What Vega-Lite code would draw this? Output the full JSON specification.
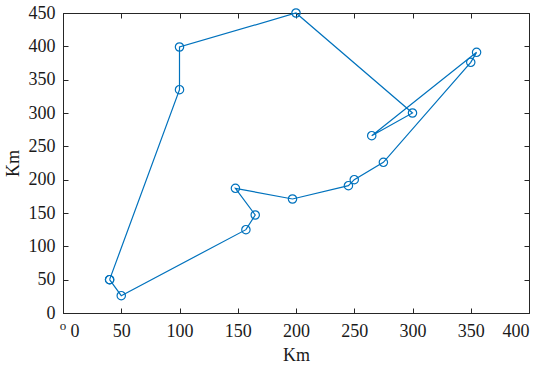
{
  "$schema": "https://vega.github.io/schema/vega-lite/v6.json",
  "width": 466,
  "height": 300,
  "autosize": "none",
  "padding": {"left": 63, "top": 13, "right": 21, "bottom": 57},
  "background": "white",
  "config": {
    "font": "Liberation Serif",
    "view": {"stroke": "#262626", "strokeWidth": 1},
    "axis": {
      "domainColor": "#262626",
      "tickColor": "#262626",
      "labelColor": "#1a1a1a",
      "titleColor": "#1a1a1a",
      "labelFont": "Liberation Serif",
      "titleFont": "Liberation Serif",
      "labelFontSize": 18,
      "titleFontSize": 18,
      "titleFontWeight": "normal",
      "grid": false,
      "tickSize": -5
    }
  },
  "datasets": {
    "route": [
      {"i": 1, "x": 40, "y": 50},
      {"i": 2, "x": 100, "y": 335},
      {"i": 3, "x": 100, "y": 399},
      {"i": 4, "x": 200, "y": 450},
      {"i": 5, "x": 300, "y": 300},
      {"i": 6, "x": 265, "y": 266},
      {"i": 7, "x": 355, "y": 391},
      {"i": 8, "x": 350, "y": 376},
      {"i": 9, "x": 275, "y": 226},
      {"i": 10, "x": 250, "y": 200},
      {"i": 11, "x": 245, "y": 191},
      {"i": 12, "x": 197, "y": 171},
      {"i": 13, "x": 148, "y": 187},
      {"i": 14, "x": 165, "y": 147},
      {"i": 15, "x": 157, "y": 125},
      {"i": 16, "x": 50, "y": 26},
      {"i": 17, "x": 40, "y": 50}
    ],
    "note": [{"x": 0, "y": -20, "label": "o"}]
  },
  "layer": [
    {
      "data": {"name": "route"},
      "mark": {"type": "line", "color": "#0072BD", "strokeWidth": 1.2},
      "encoding": {
        "x": {"field": "x", "type": "quantitative", "scale": {"domain": [0, 400], "nice": false, "zero": false},
              "axis": {"title": "Km", "values": [0, 50, 100, 150, 200, 250, 300, 350, 400], "labelPadding": 14, "titlePadding": 6,
                       "labelOffset": {"expr": "datum.value === 0 ? 7 : 0"}}},
        "y": {"field": "y", "type": "quantitative", "scale": {"domain": [0, 450], "nice": false, "zero": false},
              "axis": {"title": "Km", "values": [0, 50, 100, 150, 200, 250, 300, 350, 400, 450], "labelPadding": 13, "titlePadding": 6}},
        "order": {"field": "i", "type": "quantitative"}
      }
    },
    {
      "data": {"name": "route"},
      "mark": {"type": "point", "shape": "circle", "filled": false, "color": "#0072BD", "size": 70, "strokeWidth": 1.2, "opacity": 1},
      "encoding": {
        "x": {"field": "x", "type": "quantitative", "axis": {"orient": "top", "labels": false, "title": null, "domain": false, "values": [0, 50, 100, 150, 200, 250, 300, 350, 400]}},
        "y": {"field": "y", "type": "quantitative", "axis": {"orient": "right", "labels": false, "title": null, "domain": false, "values": [0, 50, 100, 150, 200, 250, 300, 350, 400, 450]}}
      }
    },
    {
      "data": {"name": "note"},
      "mark": {"type": "text", "fontSize": 13, "font": "Liberation Serif", "color": "#1a1a1a", "baseline": "middle", "align": "center"},
      "encoding": {
        "x": {"field": "x", "type": "quantitative", "axis": null},
        "y": {"field": "y", "type": "quantitative", "axis": null},
        "text": {"field": "label"}
      }
    }
  ],
  "resolve": {"axis": {"x": "independent", "y": "independent"}}
}
